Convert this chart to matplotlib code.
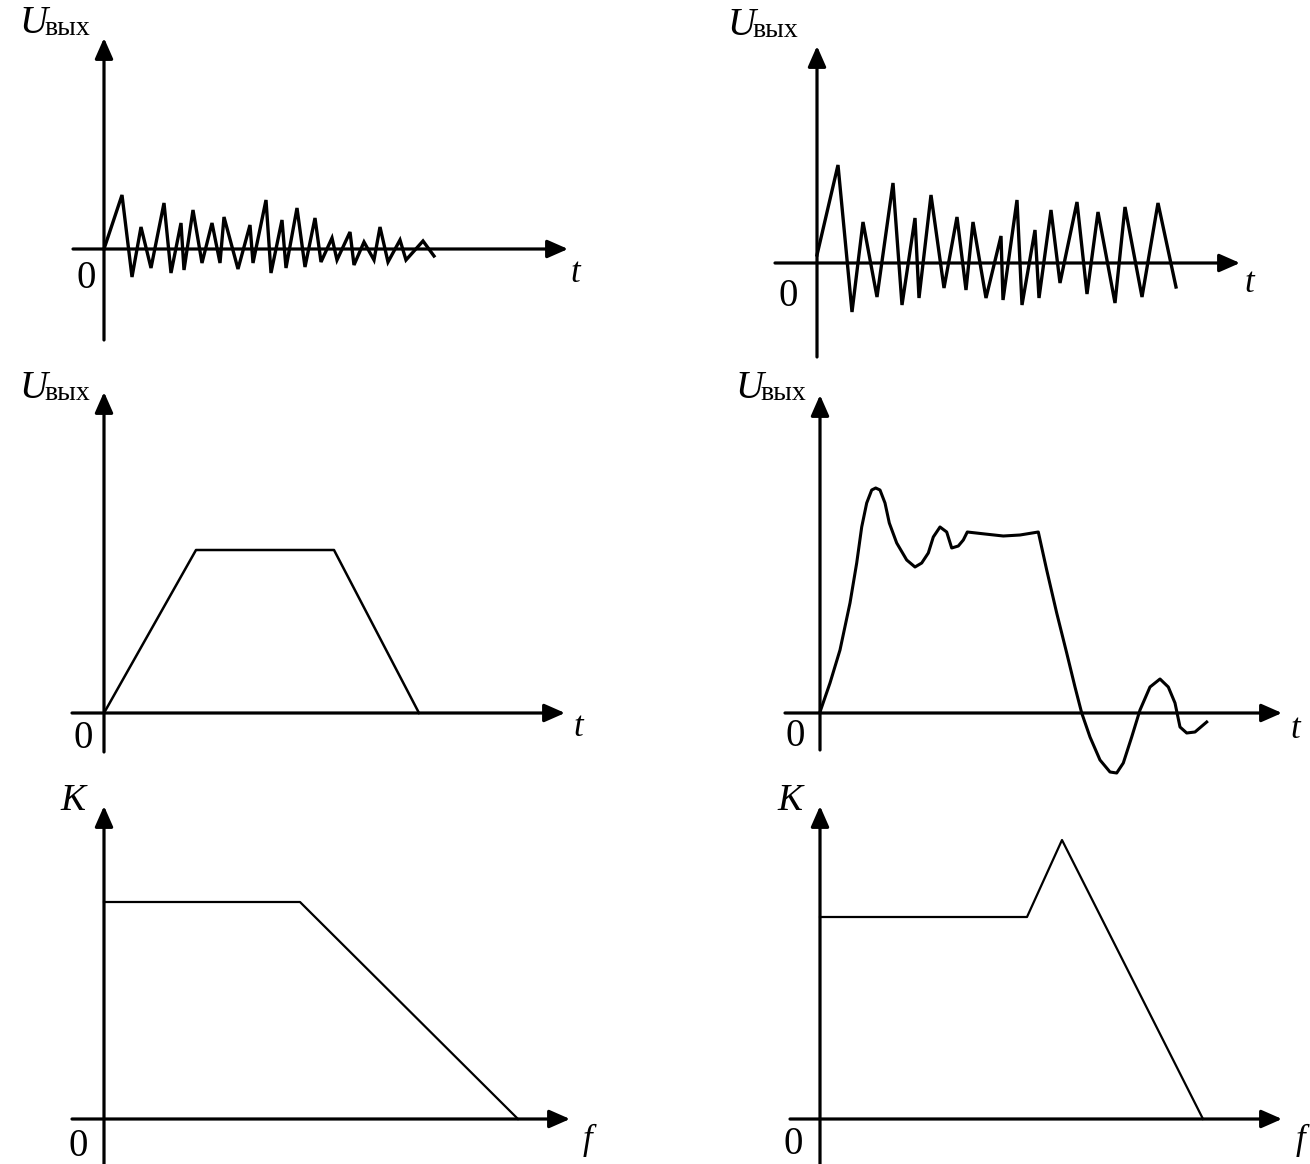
import matplotlib
matplotlib.use("Agg")
import matplotlib.pyplot as plt
import numpy as np

W, H = 1310, 1164

# ---------------- data (units relative to each panel's origin) ----------------
# top-left: damped sawtooth oscillation
tl_t = [0, 18, 28, 37, 47, 60, 67, 77, 80, 89, 98, 108, 116, 120, 134, 146, 149,
        162, 167, 178, 182, 193, 201, 211, 217, 228, 233, 246, 250, 260, 270, 276,
        284, 296, 302, 319, 330]
tl_u = [0, 54, -28, 22, -19, 46, -24, 26, -21, 39, -14, 26, -14, 32, -20, 24, -14,
        49, -24, 29, -19, 41, -18, 31, -13, 11, -11, 17, -16, 7, -11, 22,
        -13, 9, -11, 8, -7]

# top-right: undamped sawtooth oscillation
tr_t = [0, 21, 35, 46, 60, 76, 85, 98, 102, 114, 127, 140, 149, 156, 169, 184, 186,
        200, 205, 218, 222, 234, 243, 260, 270, 281, 298, 308, 325, 341, 359]
tr_u = [8, 98, -49, 41, -34, 80, -42, 45, -35, 68, -25, 46, -27, 41, -35, 27, -37,
        63, -42, 33, -35, 53, -20, 61, -31, 51, -40, 56, -34, 60, -24]

# middle-left: trapezoid pulse response
ml_t = [0, 92, 230, 315]
ml_u = [0, 163, 163, 0]

# middle-right: pulse response with overshoot and ringing
mr_t = [0, 10, 20, 30, 36.7, 41.7, 46.7, 51.7, 55.7, 60, 65, 69.3, 76.7, 86.7, 95,
        101.7, 108.3, 113.3, 120, 126.7, 131.7, 138.3, 143.3, 147.3, 165, 183.3, 200,
        218.3, 226.7, 236.7, 246.7, 255, 261.7, 270, 280, 290, 296.7, 303.3, 311.7,
        320, 330, 340, 348.3, 355, 360, 366.7, 375, 386.7]
mr_u = [1, 30, 63, 110, 150, 186, 210, 223, 225, 223, 210, 190, 170, 153, 146,
        150, 160, 176, 186, 181, 165, 167, 173, 181, 179, 177, 178,
        181, 143, 100, 60, 26, 0, -24, -47, -59, -60, -50, -24,
        3, 26, 34, 26, 10, -14, -20, -19, -9]

# bottom-left: frequency response K(f)
bl_f = [0, 196, 414]
bl_k = [217, 217, 0]

# bottom-right: frequency response with resonance peak
br_f = [0, 207, 242, 383]
br_k = [202, 202, 279, 0]

# ---------------- layout ----------------
fig = plt.figure(figsize=(W / 100, H / 100), dpi=100)
fig.patch.set_facecolor("white")

SERIF = ["Liberation Serif", "DejaVu Serif"]


def panel(ox, oy):
    ax = fig.add_axes([0, 0, 1, 1])
    ax.set_xlim(-ox, W - ox)
    ax.set_ylim(-(H - oy), oy)
    ax.axis("off")
    ax.patch.set_alpha(0)
    return ax


def axes_arrows(ax, ox, oy, x0, x1, y0, y1):
    ap = dict(arrowstyle="-|>,head_length=0.5,head_width=0.22", lw=2.3,
              color="black", shrinkA=0, shrinkB=0, mutation_scale=25)
    ax.annotate("", xy=(x1 - ox, 0), xytext=(x0 - ox, 0), arrowprops=ap)
    ax.annotate("", xy=(0, oy - y1), xytext=(0, oy - y0), arrowprops=ap)


def txt(ax, ox, oy, px, py, s, size, style="normal", ha="center", va="center"):
    ax.text(px - ox, oy - py, s, fontsize=size, family=SERIF, style=style,
            ha=ha, va=va, color="black")


def ulabel(ax, ox, oy, px, py_base):
    txt(ax, ox, oy, px, py_base, "U", 28, style="italic", ha="left", va="baseline")
    txt(ax, ox, oy, px + 25, py_base + 2, "вых", 20, ha="left", va="baseline")


# top-left
ox, oy = 104, 249
ax = panel(ox, oy)
axes_arrows(ax, ox, oy, 73, 568, 340, 38)
ax.plot(tl_t, tl_u, color="black", lw=2.4, solid_joinstyle="miter")
ulabel(ax, ox, oy, 19, 33)
txt(ax, ox, oy, 86, 279, "0", 28)
txt(ax, ox, oy, 575, 273, "t", 25, style="italic")

# top-right
ox, oy = 817, 263
ax = panel(ox, oy)
axes_arrows(ax, ox, oy, 775, 1240, 357, 46)
ax.plot(tr_t, tr_u, color="black", lw=2.4, solid_joinstyle="miter")
ulabel(ax, ox, oy, 727, 35)
txt(ax, ox, oy, 788, 296, "0", 28)
txt(ax, ox, oy, 1249, 284, "t", 25, style="italic")

# middle-left
ox, oy = 104, 713
ax = panel(ox, oy)
axes_arrows(ax, ox, oy, 72, 565, 752, 392)
ax.plot(ml_t, ml_u, color="black", lw=1.8)
ulabel(ax, ox, oy, 19, 398)
txt(ax, ox, oy, 83, 739, "0", 28)
txt(ax, ox, oy, 578, 727, "t", 25, style="italic")

# middle-right
ox, oy = 820, 713
ax = panel(ox, oy)
axes_arrows(ax, ox, oy, 785, 1282, 750, 395)
ax.plot(mr_t, mr_u, color="black", lw=2.2, solid_joinstyle="round")
ulabel(ax, ox, oy, 735, 398)
txt(ax, ox, oy, 795, 736, "0", 28)
txt(ax, ox, oy, 1295, 729, "t", 25, style="italic")

# bottom-left
ox, oy = 104, 1119
ax = panel(ox, oy)
axes_arrows(ax, ox, oy, 72, 570, 1164, 806)
ax.plot(bl_f, bl_k, color="black", lw=1.6)
txt(ax, ox, oy, 73, 801, "K", 27, style="italic")
txt(ax, ox, oy, 78, 1146, "0", 28)
txt(ax, ox, oy, 587, 1140, "f", 25, style="italic")

# bottom-right
ox, oy = 820, 1119
ax = panel(ox, oy)
axes_arrows(ax, ox, oy, 790, 1282, 1164, 806)
ax.plot(br_f, br_k, color="black", lw=1.6)
txt(ax, ox, oy, 790, 801, "K", 27, style="italic")
txt(ax, ox, oy, 793, 1144, "0", 28)
txt(ax, ox, oy, 1300, 1140, "f", 25, style="italic")

fig.savefig("out.png", dpi=100, facecolor="white")
